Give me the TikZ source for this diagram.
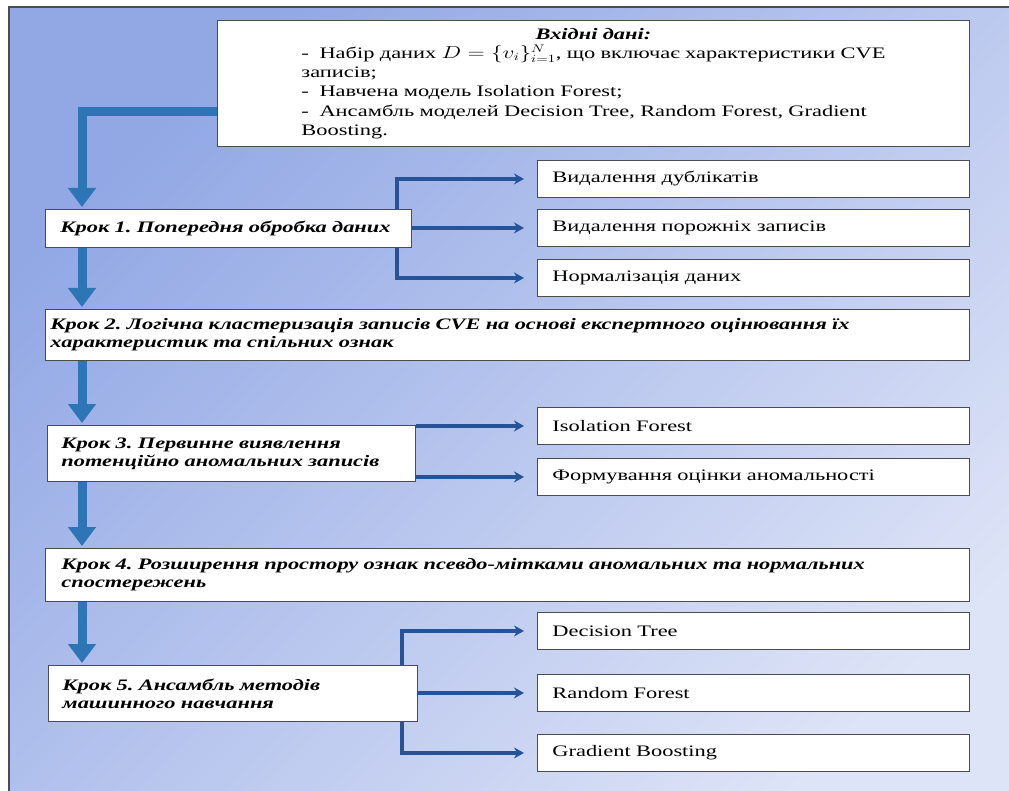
\documentclass[tikz,border=0pt]{standalone}
\usepackage{fontspec}
\setmainfont{Liberation Serif}[FakeStretch=1.4]
\usepackage{graphicx}
\usetikzlibrary{arrows.meta}
\definecolor{panelA}{RGB}{146,168,229}
\definecolor{panelB}{RGB}{222,228,247}
\definecolor{flowblue}{RGB}{46,117,182}
\definecolor{branchblue}{RGB}{38,82,152}
\frenchspacing
\tikzset{
  stepbox/.style={draw=black!70, line width=0.9pt, fill=white, anchor=north west, align=left,
    font=\bfseries\itshape\fontsize{16}{18}\selectfont, inner ysep=0pt},
  itembox/.style={draw=black!70, line width=0.9pt, fill=white, anchor=north west, align=left,
    font=\fontsize{16}{18}\selectfont, text width=402pt, inner xsep=15pt, minimum height=37pt, inner ysep=0pt},
  bigflow/.style={draw=flowblue, line width=9pt, line join=miter, -{Triangle[width=27pt,length=19pt]}, shorten >=2pt},
  branch/.style={draw=branchblue, line width=3.5pt, line join=miter, -{Stealth[width=11pt,length=10pt]}, shorten >=13pt},
}

\begin{document}
\begin{tikzpicture}[x=1pt,y=1pt,yscale=-1,xscale=1]
\useasboundingbox (0,0) rectangle (1009,791);

% Background panel
\draw[top color=panelA, bottom color=panelB, shading angle=45, draw=black!70, line width=1.5pt] (9,7) rectangle (1040,820);

% Input data
\node[stepbox, font=\fontsize{16}{19.3}\selectfont, inner xsep=84pt, text width=584pt, minimum height=126pt] (input) at (217,20)
  {\makebox[\linewidth][c]{\textbf{\textit{Вхідні дані:}}}\\
   -\ \ Набір даних \scalebox{1.35}[1]{$D=\{v_i\}_{i=1}^N$}, що включає характеристики CVE\\
   записів;\\
   -\ \ Навчена модель Isolation Forest;\\
   -\ \ Ансамбль моделей Decision Tree, Random Forest, Gradient\\
   Boosting.};

% Steps
\node[stepbox, inner xsep=15pt, text width=336pt, minimum height=38pt] (s1) at (45,209)
  {Крок 1. Попередня обробка даних};
\node[stepbox, inner xsep=5pt, text width=914pt, minimum height=51pt] (s2) at (45,309)
  {Крок 2. Логічна кластеризація записів CVE на основі експертного оцінювання їх\\
   характеристик та спільних ознак};
\node[stepbox, inner xsep=14pt, text width=340pt, minimum height=56pt] (s3) at (47,425)
  {Крок 3. Первинне виявлення\\ потенційно аномальних записів};
\node[stepbox, inner xsep=16pt, text width=892pt, minimum height=53pt] (s4) at (45,548)
  {Крок 4. Розширення простору ознак псевдо-мітками аномальних та нормальних\\ спостережень};
\node[stepbox, inner xsep=14pt, text width=341pt, minimum height=56pt] (s5) at (48,665)
  {Крок 5. Ансамбль методів\\ машинного навчання};

% Sub-items
\node[itembox] (r11) at (537,160) {Видалення дублікатів};
\node[itembox] (r12) at (537,209) {Видалення порожніх записів};
\node[itembox] (r13) at (537,259) {Нормалізація даних};
\node[itembox] (r31) at (537,407) {Isolation Forest};
\node[itembox] (r32) at (537,458) {Формування оцінки аномальності};
\node[itembox] (r51) at (537,612) {Decision Tree};
\node[itembox] (r52) at (537,674) {Random Forest};
\node[itembox] (r53) at (537,734) {Gradient Boosting};

% Main flow
\coordinate (col) at (82,0);
\draw[bigflow] (input.west |- 0,112) -| (s1.north -| col);
\draw[bigflow] (s1.south -| col) -- (s2.north -| col);
\draw[bigflow] (s2.south -| col) -- (s3.north -| col);
\draw[bigflow] (s3.south -| col) -- (s4.north -| col);
\draw[bigflow] (s4.south -| col) -- (s5.north -| col);

% Branches
\coordinate (fork1) at (397,0);
\draw[branch] (s1.north -| fork1) |- (r11.west);
\draw[branch] (s1.east |- r12.west) -- (r12.west);
\draw[branch] (s1.south -| fork1) |- (r13.west);
\draw[branch] (s3.east |- r31.west) -- (r31.west);
\draw[branch] (s3.east |- r32.west) -- (r32.west);
\coordinate (fork5) at (402,0);
\draw[branch] (s5.north -| fork5) |- (r51.west);
\draw[branch] (s5.east |- r52.west) -- (r52.west);
\draw[branch] (s5.south -| fork5) |- (r53.west);

\end{tikzpicture}
\end{document}
